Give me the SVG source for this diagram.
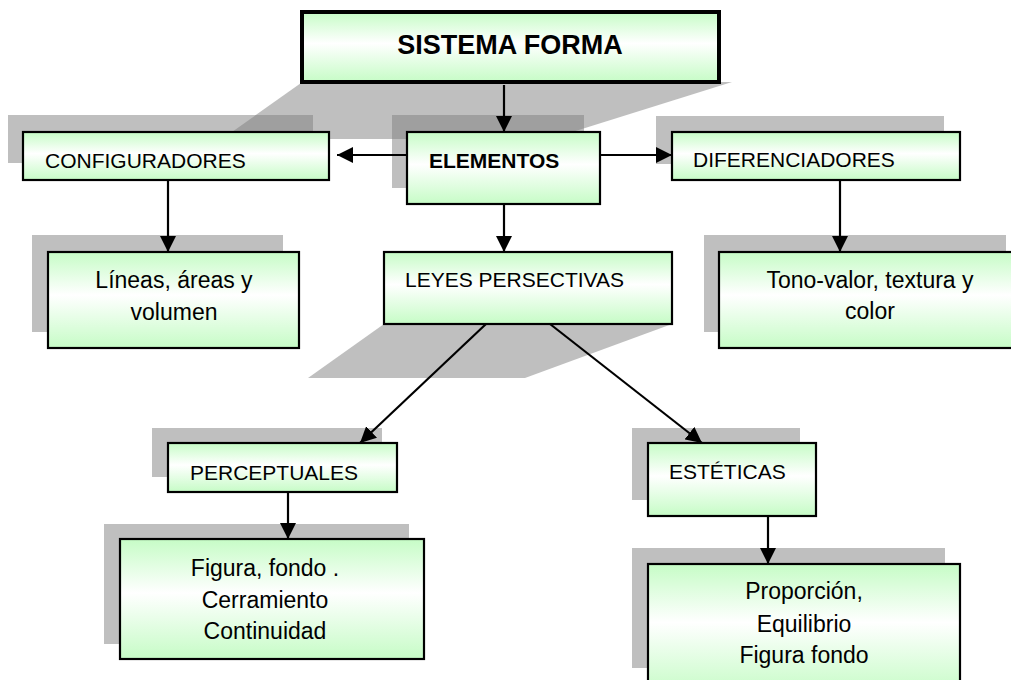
<svg xmlns="http://www.w3.org/2000/svg" width="1011" height="680" viewBox="0 0 1011 680">
  <defs>
    <linearGradient id="g" x1="0" y1="0" x2="0" y2="1">
      <stop offset="0" stop-color="#c6fcc6"/>
      <stop offset="0.45" stop-color="#ffffff"/>
      <stop offset="1" stop-color="#c6fcc6"/>
    </linearGradient>
    <marker id="arr" viewBox="0 0 16 16" refX="16" refY="8" markerWidth="16" markerHeight="16" markerUnits="userSpaceOnUse" orient="auto">
      <path d="M0,0 L16,8 L0,16 Z" fill="#000"/>
    </marker>
  </defs>
  <style>
    .sh { fill: #808080; fill-opacity: 0.5; }
    .box { fill: url(#g); stroke: #000; stroke-width: 2.2; }
    .t { font-family: "Liberation Sans", Arial, sans-serif; font-size: 21px; fill: #000; }
    .tl { font-family: "Liberation Sans", Arial, sans-serif; font-size: 23px; fill: #000; text-anchor: middle; }
    .b { font-weight: bold; }
    .c line { stroke: #000; stroke-width: 2.2; marker-end: url(#arr); }
  </style>
  <rect width="1011" height="680" fill="#fff"/>

  <g id="shadows">
    <polygon class="sh" points="301,83 732,82 550,139 222,139"/>
    <rect class="sh" x="8" y="115" width="305" height="48"/>
    <rect class="sh" x="392" y="115" width="192" height="73"/>
    <rect class="sh" x="656" y="116" width="288" height="48"/>
    <rect class="sh" x="32" y="235" width="251" height="97"/>
    <polygon class="sh" points="384,324 672,324 525,378 308,378"/>
    <rect class="sh" x="704" y="235" width="302" height="97"/>
    <rect class="sh" x="152" y="428" width="230" height="49"/>
    <rect class="sh" x="632" y="428" width="168" height="72"/>
    <rect class="sh" x="104" y="524" width="305" height="120"/>
    <rect class="sh" x="632" y="548" width="313" height="120"/>
  </g>

  <g id="connectors" class="c">
    <line x1="504" y1="85" x2="504" y2="132"/>
    <line x1="407" y1="155" x2="337" y2="155"/>
    <line x1="600" y1="155" x2="672" y2="155"/>
    <line x1="168" y1="180" x2="168" y2="252"/>
    <line x1="840" y1="180" x2="840" y2="252"/>
    <line x1="504" y1="204" x2="504" y2="252"/>
    <line x1="486" y1="324" x2="360" y2="443"/>
    <line x1="550" y1="324" x2="702" y2="443"/>
    <line x1="288" y1="492" x2="288" y2="539"/>
    <line x1="768" y1="516" x2="768" y2="564"/>
  </g>

  <g id="sistema-forma">
    <rect class="box" x="302" y="12" width="417" height="70" style="stroke-width:4"/>
    <text class="t b" x="510" y="54" text-anchor="middle" style="font-size:27px">SISTEMA FORMA</text>
  </g>
  <g id="configuradores">
    <rect class="box" x="23" y="132" width="306" height="48"/>
    <text class="t" x="45" y="168">CONFIGURADORES</text>
  </g>
  <g id="elementos">
    <rect class="box" x="407" y="132" width="193" height="72"/>
    <text class="t b" x="429" y="168">ELEMENTOS</text>
  </g>
  <g id="diferenciadores">
    <rect class="box" x="672" y="132" width="288" height="48"/>
    <text class="t" x="693" y="167">DIFERENCIADORES</text>
  </g>
  <g id="lineas">
    <rect class="box" x="48" y="252" width="251" height="96"/>
    <text class="tl" x="174" y="288">Líneas, áreas y</text>
    <text class="tl" x="174" y="320">volumen</text>
  </g>
  <g id="leyes">
    <rect class="box" x="384" y="252" width="288" height="72"/>
    <text class="t" x="405" y="287">LEYES PERSECTIVAS</text>
  </g>
  <g id="tono">
    <rect class="box" x="719" y="252" width="295" height="96"/>
    <text class="tl" x="870" y="288">Tono-valor, textura y</text>
    <text class="tl" x="870" y="319">color</text>
  </g>
  <g id="perceptuales">
    <rect class="box" x="168" y="443" width="229" height="49"/>
    <text class="t" x="190" y="480">PERCEPTUALES</text>
  </g>
  <g id="esteticas">
    <rect class="box" x="648" y="443" width="168" height="73"/>
    <text class="t" x="669" y="479">ESTÉTICAS</text>
  </g>
  <g id="figura">
    <rect class="box" x="120" y="539" width="304" height="120"/>
    <text class="tl" x="265" y="576">Figura, fondo .</text>
    <text class="tl" x="265" y="608">Cerramiento</text>
    <text class="tl" x="265" y="639">Continuidad</text>
  </g>
  <g id="proporcion">
    <rect class="box" x="648" y="564" width="312" height="130"/>
    <text class="tl" x="804" y="599">Proporción,</text>
    <text class="tl" x="804" y="632">Equilibrio</text>
    <text class="tl" x="804" y="663">Figura fondo</text>
  </g>
</svg>
